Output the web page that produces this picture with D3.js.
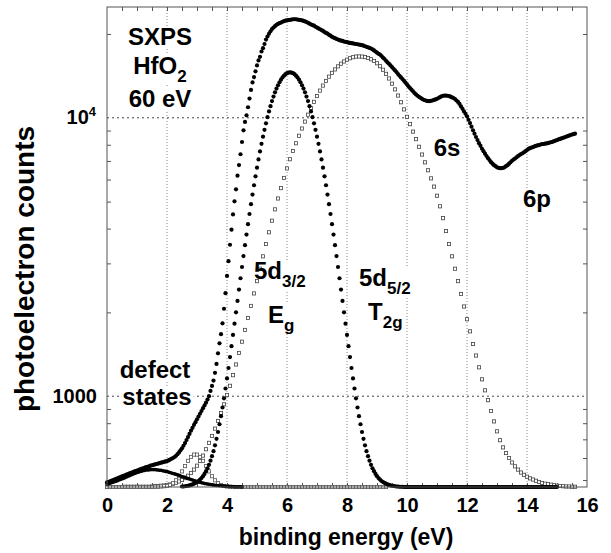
<!DOCTYPE html>
<html>
<head>
<meta charset="utf-8">
<script src="https://cdn.jsdelivr.net/npm/d3@7"></script>
<style>
  body { margin: 0; background: #fff; }
  svg text { font-family: "Liberation Sans", Arial, sans-serif; font-weight: bold; fill: #000; }
</style>
</head>
<body>
<div id="chart"></div>
<script>
// ---- data (counts vs binding energy in eV) ----

// full spectrum, 0 .. 15.6 eV, 0.05 eV steps (one row per eV)
var totalStart = 0, totalStep = 0.05;
var totalCounts = [
  490, 492, 495, 497, 500, 502, 505, 507, 510, 512, 515, 518, 520, 523, 525, 528, 531, 533, 536, 538,
  541, 543, 546, 548, 551, 553, 556, 558, 560, 563, 565, 567, 569, 571, 573, 575, 577, 579, 581, 583,
  585, 588, 592, 596, 600, 605, 611, 619, 628, 639, 650, 664, 679, 696, 713, 732, 752, 770, 789, 807,
  826, 845, 865, 885, 906, 927, 948, 973, 1000, 1045, 1089, 1138, 1213, 1306, 1426, 1549, 1671, 1828, 2061, 2344,
  2704, 3055, 3499, 3963, 4498, 5012, 5534, 6194, 6761, 7396, 8185, 9016, 9661, 10210, 10910, 11720, 12590, 13400, 14000, 14690,
  15420, 16070, 16560, 17300, 17780, 18410, 19100, 19590, 20040, 20460, 20840, 21090, 21330, 21580, 21730, 21880, 21980, 22130, 22230, 22340,
  22390, 22440, 22490, 22540, 22590, 22590, 22590, 22540, 22490, 22440, 22390, 22280, 22180, 22080, 21930, 21780, 21630, 21530, 21430, 21230,
  21090, 20940, 20800, 20650, 20510, 20320, 20180, 20050, 19860, 19720, 19540, 19410, 19320, 19190, 19100, 19010, 18920, 18880, 18790, 18750,
  18710, 18620, 18580, 18540, 18490, 18450, 18410, 18370, 18320, 18280, 18240, 18160, 18070, 17990, 17910, 17820, 17740, 17620, 17460, 17300,
  17140, 16980, 16870, 16670, 16440, 16260, 16030, 15810, 15630, 15420, 15210, 15000, 14790, 14590, 14360, 14160, 13960, 13770, 13580, 13370,
  13180, 12970, 12790, 12620, 12450, 12270, 12130, 12000, 11890, 11800, 11700, 11610, 11560, 11510, 11480, 11480, 11510, 11540, 11590, 11640,
  11700, 11780, 11860, 11940, 12000, 12020, 12020, 12000, 11970, 11910, 11830, 11780, 11670, 11540, 11400, 11220, 10990, 10770, 10540, 10330,
  10120, 9840, 9570, 9290, 9020, 8770, 8530, 8320, 8110, 7930, 7740, 7590, 7430, 7290, 7160, 7050, 6930, 6840, 6760, 6700,
  6640, 6610, 6590, 6590, 6610, 6640, 6700, 6760, 6840, 6920, 7010, 7080, 7140, 7210, 7280, 7350, 7410, 7460, 7520, 7590,
  7660, 7730, 7780, 7820, 7850, 7890, 7930, 7960, 7980, 8020, 8040, 8050, 8070, 8090, 8110, 8150, 8170, 8200, 8240, 8280,
  8320, 8360, 8400, 8430, 8470, 8510, 8550, 8590, 8630, 8670, 8710, 8730, 8770
];

// 5d3/2 (Eg) component, 2.5 .. 15.0 eV, 0.05 eV steps (one row per 0.5 eV)
var egStart = 2.5, egStep = 0.05;
var egCounts = [
  474, 474, 475, 476, 477, 478, 480, 482, 485, 488,
  492, 496, 502, 508, 516, 526, 538, 551, 567, 587,
  609, 635, 666, 703, 744, 793, 848, 911, 983, 1066,
  1159, 1263, 1382, 1513, 1660, 1822, 2002, 2200, 2416, 2653,
  2911, 3188, 3487, 3808, 4150, 4513, 4897, 5300, 5724, 6163,
  6619, 7090, 7570, 8060, 8557, 9055, 9555, 10050, 10540, 11010,
  11480, 11920, 12340, 12730, 13090, 13420, 13710, 13960, 14170, 14340,
  14460, 14530, 14550, 14530, 14460, 14340, 14170, 13960, 13710, 13420,
  13090, 12730, 12340, 11920, 11480, 11010, 10540, 10050, 9555, 9055,
  8557, 8060, 7570, 7090, 6619, 6163, 5724, 5300, 4897, 4513,
  4150, 3808, 3487, 3188, 2911, 2653, 2416, 2200, 2002, 1822,
  1660, 1513, 1382, 1263, 1159, 1066, 983, 911, 848, 793,
  744, 703, 666, 635, 609, 587, 567, 551, 538, 526,
  516, 508, 502, 496, 492, 488, 485, 482, 480, 478,
  477, 476, 475, 474, 474, 473, 473, 473, 472, 472,
  472, 472, 472, 472, 472, 472, 472, 472, 472, 472,
  472, 472, 472, 472, 472, 472, 472, 472, 472, 472,
  472, 472, 472, 472, 472, 472, 472, 472, 472, 472,
  472, 472, 472, 472, 472, 472, 472, 472, 472, 472,
  472, 472, 472, 472, 472, 472, 472, 472, 472, 472,
  472, 472, 472, 472, 472, 472, 472, 472, 472, 472,
  472, 472, 472, 472, 472, 472, 472, 472, 472, 472,
  472, 472, 472, 472, 472, 472, 472, 472, 472, 472,
  472, 472, 472, 472, 472, 472, 472, 472, 472, 472,
  472, 472, 472, 472, 472, 472, 472, 472, 472, 472,
  472
];

// 5d5/2 (T2g) component, 0 .. 15.6 eV, 0.1 eV steps (one row per eV)
var t2gStart = 0, t2gStep = 0.1;
var t2gCounts = [
  472, 472, 472, 472, 472, 472, 473, 473, 473, 473,
  473, 473, 473, 473, 473, 474, 475, 476, 477, 478,
  480, 482, 485, 489, 494, 500, 508, 518, 530, 545,
  563, 585, 612, 645, 680, 720, 765, 815, 870, 935,
  1010, 1090, 1190, 1300, 1430, 1570, 1730, 1910, 2110, 2340,
  2590, 2870, 3180, 3520, 3880, 4270, 4690, 5130, 5590, 6080,
  6580, 7100, 7600, 8100, 8620, 9150, 9690, 10260, 10840, 11410,
  11970, 12520, 13050, 13560, 14050, 14500, 14920, 15300, 15640, 15930,
  16170, 16360, 16500, 16590, 16610, 16590, 16520, 16400, 16230, 16000,
  15700, 15320, 14880, 14380, 13840, 13260, 12650, 12020, 11370, 10720,
  10080, 9490, 8920, 8380, 7870, 7380, 6920, 6480, 6060, 5660,
  5250, 4810, 4360, 3920, 3520, 3180, 2870, 2590, 2330, 2100,
  1890, 1710, 1540, 1400, 1270, 1150, 1050, 968, 885, 812,
  748, 695, 655, 625, 600, 578, 560, 545, 532, 522,
  514, 507, 502, 497, 492, 488, 485, 483, 481, 479,
  477, 476, 475, 474, 474, 473, 473
];

// broad defect state, 0 .. 4.5 eV, 0.05 eV steps
var defectAStart = 0, defectAStep = 0.05;
var defectACounts = [
  484, 485, 487, 489, 491, 493, 495, 497, 500, 502,
  505, 507, 510, 513, 516, 518, 521, 524, 527, 529,
  532, 534, 536, 538, 540, 541, 543, 543, 544, 545,
  545, 545, 545, 544, 543, 542, 542, 540, 539, 537,
  536, 534, 532, 530, 528, 526, 524, 522, 520, 517,
  515, 513, 511, 508, 506, 504, 502, 500, 498, 496,
  494, 492, 491, 489, 488, 486, 485, 484, 483, 482,
  481, 480, 479, 478, 478, 477, 477, 476, 476, 475,
  475, 475, 474, 474, 474, 473, 473, 473, 473, 473,
  472
];

// narrow defect state near 3 eV, 0 .. 9.3 eV, 0.1 eV steps
var defectBStart = 0, defectBStep = 0.1;
var defectBCounts = [
  472, 472, 472, 472, 472, 472, 472, 472, 472, 472,
  472, 472, 472, 472, 472, 472, 473, 473, 474, 475,
  476, 480, 487, 499, 516, 537, 561, 586, 605, 617,
  617, 605, 586, 561, 537, 516, 499, 487, 480, 476,
  474, 473, 472, 472, 472, 472, 472, 472, 472, 472,
  472, 472, 472, 472, 472, 472, 472, 472, 472, 472,
  472, 472, 472, 472, 472, 472, 472, 472, 472, 472,
  472, 472, 472, 472, 472, 472, 472, 472, 472, 472,
  472, 472, 472, 472, 472, 472, 472, 472, 472, 472,
  472, 472, 472, 472
];

var xLabels = [0, 2, 4, 6, 8, 10, 12, 14, 16];
var xGrid = [2, 4, 6, 8, 10, 12, 14];
var yGrid = [1000, 10000];
var yMinor = [500, 600, 700, 800, 900, 2000, 3000, 4000, 5000, 6000, 7000, 8000, 9000, 20000];

// ---- layout ----
var margin = {top: 7, right: 24, bottom: 66, left: 107},
    width = 611 - margin.left - margin.right,
    height = 553 - margin.top - margin.bottom;

var svg = d3.select("#chart")
  .append("svg")
    .attr("width", width + margin.left + margin.right)
    .attr("height", height + margin.top + margin.bottom)
  .append("g")
    .attr("transform", "translate(" + margin.left + "," + margin.top + ")");

var x = d3.scaleLinear().domain([0, 16]).range([0, width]);
var yMin = 472;
var y = d3.scaleLog().domain([yMin, 25000]).range([height, 0]);

function series(start, step, values) {
  return values.map(function(v, i) { return {e: start + i * step, c: v}; });
}
function yc(c) { return y(Math.max(c, yMin)); }

// grid
svg.append("g").selectAll("line").data(xGrid).join("line")
  .attr("x1", function(d) { return x(d); }).attr("x2", function(d) { return x(d); })
  .attr("y1", 0).attr("y2", height)
  .attr("stroke", "#8a8a8a").attr("stroke-width", 1).attr("stroke-dasharray", "1,2");
svg.append("g").selectAll("line").data(yGrid).join("line")
  .attr("x1", 0).attr("x2", width)
  .attr("y1", function(d) { return y(d); }).attr("y2", function(d) { return y(d); })
  .attr("stroke", "#444").attr("stroke-width", 1).attr("stroke-dasharray", "2,3");

// minor ticks, pointing inwards on all four sides
var xMinor = d3.range(0.5, 16, 0.5);
function minorAxis(axis, tr) {
  var g = svg.append("g").attr("transform", tr).call(axis.tickSize(-4).tickFormat(""));
  g.select(".domain").remove();
  g.selectAll("line").attr("stroke", "#555");
}
minorAxis(d3.axisBottom(x).tickValues(xMinor), "translate(0," + height + ")");
minorAxis(d3.axisTop(x).tickValues(xMinor), "translate(0,0)");
minorAxis(d3.axisLeft(y).tickValues(yMinor), "translate(0,0)");
minorAxis(d3.axisRight(y).tickValues(yMinor), "translate(" + width + ",0)");

// x tick labels
var xAxis = svg.append("g")
  .attr("transform", "translate(0," + height + ")")
  .call(d3.axisBottom(x).tickValues(xLabels).tickSize(0).tickPadding(11));
xAxis.select(".domain").remove();
xAxis.selectAll("text").style("font-size", "20px");

// y tick labels
var ten4 = svg.append("text")
  .attr("x", -11).attr("y", y(10000) + 6)
  .style("font-size", "20px").attr("text-anchor", "end");
ten4.append("tspan").text("10");
ten4.append("tspan").attr("dy", -8).style("font-size", "13px").text("4");
svg.append("text")
  .attr("x", -10).attr("y", y(1000) + 7)
  .attr("text-anchor", "end").style("font-size", "20px")
  .text("1000");

// axis titles
svg.append("text")
  .attr("x", width / 2 - 1).attr("y", height + 58)
  .attr("text-anchor", "middle").style("font-size", "23px")
  .text("binding energy (eV)");
svg.append("text")
  .attr("transform", "rotate(-90)")
  .attr("x", -262).attr("y", -73)
  .attr("text-anchor", "middle").style("font-size", "28px")
  .text("photoelectron counts");

// annotation boxes sit under the data, their text above it
var boxLayer = svg.append("g");
var data = svg.append("g");
var labelLayer = svg.append("g");

function addLabel(px, py, anchor, parts) {
  var t = labelLayer.append("text")
    .attr("x", px).attr("y", py)
    .attr("text-anchor", anchor).style("font-size", "24px");
  parts.forEach(function(p) {
    var s = t.append("tspan").text(p.t);
    if (p.sub) s.attr("dy", 8).style("font-size", "17px");
  });
  var b = t.node().getBBox();
  boxLayer.append("rect")
    .attr("x", b.x - 2).attr("y", b.y + 3).attr("width", b.width + 4).attr("height", b.height - 4)
    .attr("fill", "#fff");
}

// T2g squares
data.append("g").selectAll("rect").data(series(t2gStart, t2gStep, t2gCounts)).join("rect")
  .attr("x", function(d) { return x(d.e) - 1.6; })
  .attr("y", function(d) { return yc(d.c) - 1.6; })
  .attr("width", 3.2).attr("height", 3.2)
  .attr("fill", "#fff").attr("stroke", "#444").attr("stroke-width", 0.8);

// narrow defect squares
data.append("g").selectAll("rect").data(series(defectBStart, defectBStep, defectBCounts)).join("rect")
  .attr("x", function(d) { return x(d.e) - 1.6; })
  .attr("y", function(d) { return yc(d.c) - 1.6; })
  .attr("width", 3.2).attr("height", 3.2)
  .attr("fill", "#fff").attr("stroke", "#555").attr("stroke-width", 0.8);

// Eg dots
data.append("g").selectAll("circle").data(series(egStart, egStep, egCounts)).join("circle")
  .attr("cx", function(d) { return x(d.e); })
  .attr("cy", function(d) { return yc(d.c); })
  .attr("r", 2.1).attr("fill", "#000");

// broad defect dots
data.append("g").selectAll("circle").data(series(defectAStart, defectAStep, defectACounts)).join("circle")
  .attr("cx", function(d) { return x(d.e); })
  .attr("cy", function(d) { return yc(d.c); })
  .attr("r", 1.8).attr("fill", "#000");

// total spectrum
data.append("g").selectAll("circle").data(series(totalStart, totalStep, totalCounts)).join("circle")
  .attr("cx", function(d) { return x(d.e); })
  .attr("cy", function(d) { return yc(d.c); })
  .attr("r", 2.1).attr("fill", "#000");

addLabel(53, 38, "middle", [{t: "SXPS"}]);
addLabel(53, 67, "middle", [{t: "HfO"}, {t: "2", sub: true}]);
addLabel(53, 100, "middle", [{t: "60 eV"}]);
addLabel(340, 149, "middle", [{t: "6s"}]);
addLabel(430, 200, "middle", [{t: "6p"}]);
addLabel(147, 272, "start", [{t: "5d"}, {t: "3/2", sub: true}]);
addLabel(161, 316, "start", [{t: "E"}, {t: "g", sub: true}]);
addLabel(252, 279, "start", [{t: "5d"}, {t: "5/2", sub: true}]);
addLabel(261, 313, "start", [{t: "T"}, {t: "2g", sub: true}]);
addLabel(48, 371, "middle", [{t: "defect"}]);
addLabel(50, 398, "middle", [{t: "states"}]);

// frame
svg.append("rect")
  .attr("x", 0).attr("y", 0).attr("width", width).attr("height", height)
  .attr("fill", "none").attr("stroke", "#555").attr("stroke-width", 1);
</script>
</body>
</html>
